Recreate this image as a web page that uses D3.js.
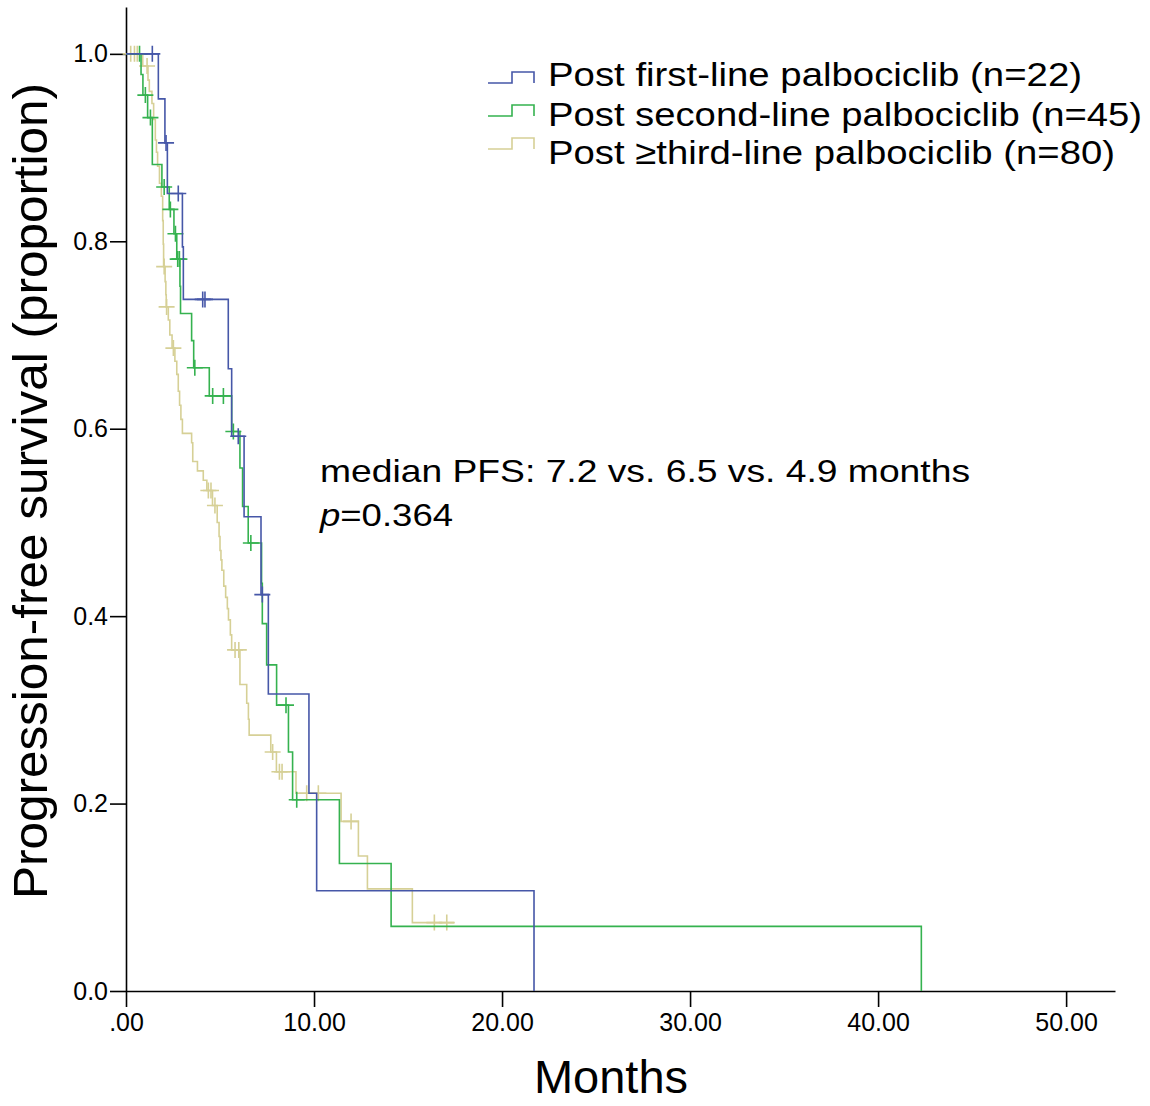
<!DOCTYPE html>
<html>
<head>
<meta charset="utf-8">
<script src="https://cdn.jsdelivr.net/npm/d3@7"></script>
<style>
  body { margin: 0; background: #fff; }
  svg { font-family: "Liberation Sans", Arial, sans-serif; }
</style>
</head>
<body>
<svg id="canvas" width="1150" height="1106"></svg>
<script>
"use strict"

// ---- data ----
// each group: event times (months), survival just after each event, censor times
let firstTimes = [1.72, 2.07, 2.20, 3.00, 3.05, 5.44, 5.62, 6.28, 7.18, 7.57, 9.73, 10.14, 21.7];
let firstSurv  = [0.952, 0.905, 0.851, 0.794, 0.738, 0.664, 0.592, 0.506, 0.423, 0.317, 0.211, 0.107, 0.0];
let firstCens  = [1.40, 2.13, 2.78, 4.08, 4.20, 5.97, 7.25];
let firstEnd   = 21.7;

let secondTimes = [0.80, 0.90, 1.15, 1.40, 1.91, 2.30, 2.55, 2.70, 2.87, 2.90, 3.49, 3.60, 4.43,
                   5.62, 6.06, 6.20, 6.50, 7.21, 7.25, 7.48, 8.01, 8.64, 8.86, 11.35, 14.1, 42.3];
let secondSurv  = [0.978, 0.956, 0.932, 0.882, 0.858, 0.834, 0.808, 0.781, 0.752, 0.723, 0.694, 0.665, 0.635,
                   0.597, 0.558, 0.517, 0.478, 0.435, 0.392, 0.348, 0.305, 0.255, 0.204, 0.136, 0.069, 0.0];
let secondCens  = [0.72, 1.03, 1.30, 2.03, 2.36, 2.63, 2.75, 2.84, 3.66, 4.61, 5.18, 5.71, 6.64, 8.51, 9.08];
let secondEnd   = 42.3;

let thirdTimes = [0.89, 1.17, 1.24, 1.38, 1.47, 1.56, 1.62, 1.68, 1.78, 1.88, 1.95, 1.98, 2.00, 2.08, 2.12,
                  2.14, 2.25, 2.33, 2.45, 2.60, 2.70, 2.78, 2.85, 2.92, 3.00, 3.49, 3.55, 3.80, 4.11, 4.30,
                  4.60, 4.85, 4.95, 5.00, 5.05, 5.10, 5.20, 5.30, 5.39, 5.45, 5.55, 5.62, 6.06, 6.42, 6.51,
                  6.55, 7.70, 8.00, 9.04, 11.44, 12.36, 12.84, 15.23];
let thirdSurv  = [0.987, 0.972, 0.960, 0.947, 0.930, 0.908, 0.895, 0.880, 0.862, 0.848, 0.822, 0.797, 0.773, 0.757, 0.743,
                  0.730, 0.716, 0.700, 0.686, 0.672, 0.658, 0.640, 0.625, 0.610, 0.595, 0.585, 0.565, 0.555, 0.545, 0.534,
                  0.518, 0.500, 0.485, 0.470, 0.460, 0.449, 0.432, 0.420, 0.408, 0.396, 0.380, 0.364, 0.327, 0.307, 0.290,
                  0.273, 0.255, 0.234, 0.211, 0.181, 0.144, 0.109, 0.073];
let thirdCens  = [0.25, 0.45, 0.60, 1.12, 2.03, 2.16, 2.52, 4.38, 4.52, 4.73, 5.80, 6.00, 7.80, 8.16, 8.30,
                  9.61, 10.23, 11.97, 16.4, 17.06];
let thirdEnd   = 17.45;

let legendLabels = ["Post first-line palbociclib (n=22)",
                    "Post second-line palbociclib (n=45)",
                    "Post \u2265third-line palbociclib (n=80)"];
let xTicks = [0, 10, 20, 30, 40, 50];
let yTicks = [0, 0.2, 0.4, 0.6, 0.8, 1.0];

// ---- drawing ----
let drawing = d3.select("#canvas");
let fontStack = "'Liberation Sans', Arial, sans-serif";

let x = d3.scaleLinear().domain([0, 52.6]).range([126, 1115]);
let y = d3.scaleLinear().domain([0, 1.05]).range([991, 7]);

let groups = [
    { times: firstTimes,  surv: firstSurv,  cens: firstCens,  end: firstEnd,  color: "#4657a8" },
    { times: secondTimes, surv: secondSurv, cens: secondCens, end: secondEnd, color: "#35b24f" },
    { times: thirdTimes,  surv: thirdSurv,  cens: thirdCens,  end: thirdEnd,  color: "#d6d096" }
];

/* Axes */
let xAxis = d3.axisBottom(x)
    .tickValues(xTicks)
    .tickFormat(d => d === 0 ? ".00" : d.toFixed(2))
    .tickSize(16)
    .tickSizeOuter(0)
    .tickPadding(6);

let yAxis = d3.axisLeft(y)
    .tickValues(yTicks)
    .tickFormat(d3.format(".1f"))
    .tickSize(16)
    .tickSizeOuter(0)
    .tickPadding(2);

let gx = drawing.append("g")
    .attr("transform", "translate(0," + y(0) + ")")
    .call(xAxis);

let gy = drawing.append("g")
    .attr("transform", "translate(" + x(0) + ",0)")
    .call(yAxis);

[gx, gy].forEach(g => {
    g.selectAll("path, line").attr("stroke", "#000").attr("stroke-width", 1.6);
    g.selectAll("text")
        .attr("fill", "#000")
        .style("font-family", fontStack)
        .style("font-size", "25px");
});

/* Curves: Kaplan-Meier steps */
let stepLine = d3.line()
    .x(d => x(d[0]))
    .y(d => y(d[1]))
    .curve(d3.curveStepAfter);

function survAt(g, t) {
    let s = 1;
    for (let i = 0; i < g.times.length; i++) {
        if (g.times[i] <= t) s = g.surv[i];
    }
    return s;
}

// draw tan first, then green, then blue on top
groups.slice().reverse().forEach(g => {
    let pts = [[0, 1]];
    g.times.forEach((t, i) => pts.push([t, g.surv[i]]));
    let last = pts[pts.length - 1];
    if (last[0] < g.end) pts.push([g.end, last[1]]);

    drawing.append("path")
        .attr("d", stepLine(pts))
        .attr("fill", "none")
        .attr("stroke", g.color)
        .attr("stroke-width", 1.6);

    // censor marks (+)
    drawing.append("g").selectAll("path")
        .data(g.cens)
        .join("path")
        .attr("d", t => {
            let cx = x(t), cy = y(survAt(g, t));
            return "M" + (cx - 8) + "," + cy + "H" + (cx + 8) +
                   "M" + cx + "," + (cy - 8) + "V" + (cy + 8);
        })
        .attr("stroke", g.color)
        .attr("stroke-width", 1.6)
        .attr("fill", "none");
});

/* Legend */
let legendBottoms = [83, 116, 149];
let legendBaselines = [86, 126, 164];
let legendWidths = [534, 594, 567];

groups.forEach((g, i) => {
    let b = legendBottoms[i];
    drawing.append("path")
        .attr("d", "M488," + b + "H512V" + (b - 11) + "H534V" + b)
        .attr("fill", "none")
        .attr("stroke", g.color)
        .attr("stroke-width", 1.6);

    drawing.append("text")
        .attr("x", 548)
        .attr("y", legendBaselines[i])
        .attr("textLength", legendWidths[i])
        .attr("lengthAdjust", "spacingAndGlyphs")
        .style("font-family", fontStack)
        .style("font-size", "34px")
        .text(legendLabels[i]);
});

/* Annotation */
drawing.append("text")
    .attr("x", 320)
    .attr("y", 482)
    .attr("textLength", 650)
    .attr("lengthAdjust", "spacingAndGlyphs")
    .style("font-family", fontStack)
    .style("font-size", "32px")
    .text("median PFS: 7.2 vs. 6.5 vs. 4.9 months");

let pText = drawing.append("text")
    .attr("x", 320)
    .attr("y", 526)
    .attr("textLength", 133)
    .attr("lengthAdjust", "spacingAndGlyphs")
    .style("font-family", fontStack)
    .style("font-size", "32px");
pText.append("tspan").style("font-style", "italic").text("p");
pText.append("tspan").text("=0.364");

/* Axis titles */
drawing.append("text")
    .attr("x", 611)
    .attr("y", 1093)
    .attr("text-anchor", "middle")
    .style("font-family", fontStack)
    .style("font-size", "47px")
    .text("Months");

drawing.append("text")
    .attr("transform", "translate(47,491) rotate(-90)")
    .attr("text-anchor", "middle")
    .attr("textLength", 816)
    .attr("lengthAdjust", "spacingAndGlyphs")
    .style("font-family", fontStack)
    .style("font-size", "48px")
    .text("Progression-free survival (proportion)");
</script>
</body>
</html>
